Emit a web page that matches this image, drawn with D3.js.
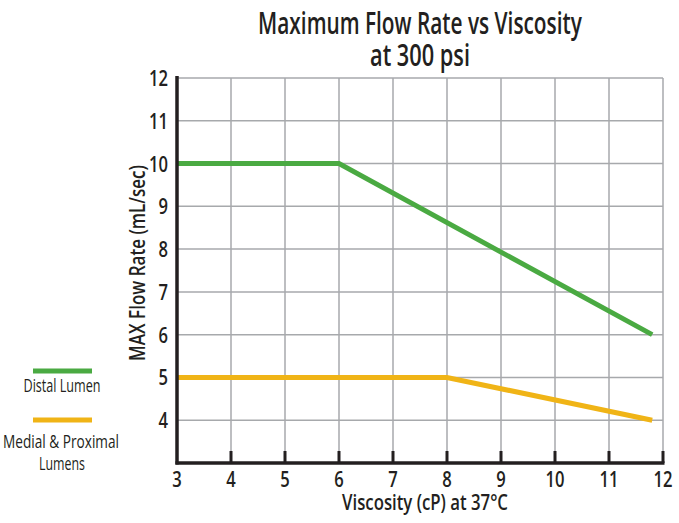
<!DOCTYPE html>
<html><head><meta charset="utf-8">
<script src="https://cdn.jsdelivr.net/npm/d3@7"></script>
<style>
body{margin:0;background:#fff;}
text{font-family:"Open Sans","Noto Sans",sans-serif;fill:#231f20;}
</style></head>
<body><svg id="c" width="679" height="523"></svg>
<script>
const xTicks=[3,4,5,6,7,8,9,10,11,12];
const yTicks=[4,5,6,7,8,9,10,11,12];
const distalX=[3,6,11.8];
const distalY=[10,10,6];
const medialX=[3,8,11.8];
const medialY=[5,5,4];
const seriesNames=["Distal Lumen","Medial & Proximal Lumens"];
const colors=["#4aaa42","#f0b416"];

const svg=d3.select("#c");
const x=d3.scaleLinear().domain([3,12]).range([177,663]);
const y=d3.scaleLinear().domain([3,12]).range([463,78]);

// condensed text helper: natural text scaled horizontally to target width
function ct(sel,str,px,py,size,len,anchor,weight,rot){
  const g=sel.append("g");
  const t=g.append("text").attr("x",0).attr("y",0).attr("font-size",size)
    .attr("text-anchor",anchor||"middle").attr("font-weight",weight||600).text(str);
  const nat=t.node().getComputedTextLength()||len;
  const s=len/nat;
  g.attr("transform",`translate(${px},${py})`+(rot?` rotate(${rot})`:"")+` scale(${s},1)`);
  return t;
}

// grid
svg.append("g").selectAll("line").data(xTicks.slice(1)).join("line")
 .attr("x1",d=>x(d)).attr("x2",d=>x(d)).attr("y1",y(12)).attr("y2",y(3))
 .attr("stroke","#a7a9ac").attr("stroke-width",1.5);
svg.append("g").selectAll("line").data(yTicks).join("line")
 .attr("x1",x(3)).attr("x2",x(12)).attr("y1",d=>y(d)).attr("y2",d=>y(d))
 .attr("stroke","#a7a9ac").attr("stroke-width",1.5);

// bottom ticks
svg.append("g").selectAll("line").data(xTicks.slice(1)).join("line")
 .attr("x1",d=>x(d)).attr("x2",d=>x(d)).attr("y1",y(3)).attr("y2",y(3)-12)
 .attr("stroke","#231f20").attr("stroke-width",3);

// lines
const line=d3.line().x(d=>x(d[0])).y(d=>y(d[1]));
[[distalX,distalY],[medialX,medialY]].forEach((s,i)=>{
  svg.append("path").datum(s[0].map((v,j)=>[v,s[1][j]]))
   .attr("d",line).attr("fill","none").attr("stroke",colors[i]).attr("stroke-width",5);
});

// axes
svg.append("line").attr("x1",x(3)).attr("x2",x(3)).attr("y1",y(12)-2).attr("y2",y(3)+1.5)
 .attr("stroke","#231f20").attr("stroke-width",3.5);
svg.append("line").attr("x1",x(3)-1.5).attr("x2",x(12)+1.5).attr("y1",y(3)).attr("y2",y(3))
 .attr("stroke","#231f20").attr("stroke-width",3.5);

// tick labels
const gx=svg.append("g");
xTicks.forEach(d=>ct(gx,String(d),x(d),487,22,String(d).length*9.5,"middle",600));
const gy=svg.append("g");
yTicks.forEach(d=>ct(gy,String(d),168,y(d)+8,22,String(d).length*9.5,"end",600));

// axis titles
ct(svg,"Viscosity (cP) at 37°C",425,510,22,166,"middle",600);
ct(svg,"MAX Flow Rate (mL/sec)",145,263,22,196,"middle",600,-90);

// title
ct(svg,"Maximum Flow Rate vs Viscosity",420,34,31,324,"middle",600);
ct(svg,"at 300 psi",420,66,31,100,"middle",600);

// legend
const lg=svg.append("g");
lg.append("line").attr("x1",33).attr("x2",92).attr("y1",371).attr("y2",371)
 .attr("stroke",colors[0]).attr("stroke-width",5);
ct(lg,seriesNames[0],62,392,18,77,"middle",400);
lg.append("line").attr("x1",33).attr("x2",92).attr("y1",420).attr("y2",420)
 .attr("stroke",colors[1]).attr("stroke-width",5);
ct(lg,"Medial & Proximal",61,448,18,116,"middle",400);
ct(lg,"Lumens",62,470,18,46,"middle",400);
</script></body></html>
